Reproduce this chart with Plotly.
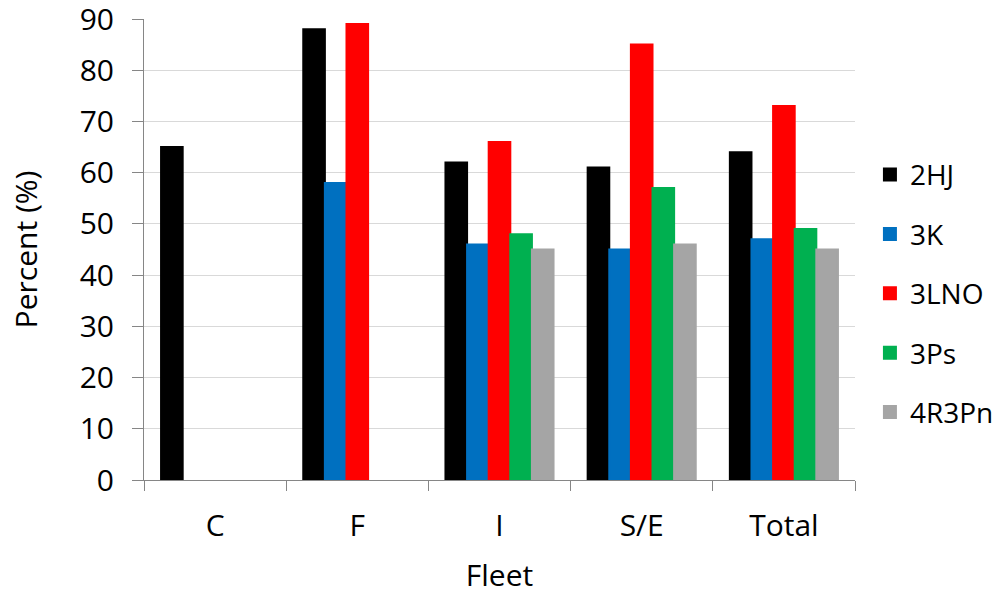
import plotly.graph_objects as go

categories = ["C", "F", "I", "S/E", "Total"]
series_names = ["2HJ", "3K", "3LNO", "3Ps", "4R3Pn"]
v_2HJ = [65, 88, 62, 61, 64]
v_3K = [None, 58, 46, 45, 47]
v_3LNO = [None, 89, 66, 85, 73]
v_3Ps = [None, None, 48, 57, 49]
v_4R3Pn = [None, None, 45, 46, 45]
series_values = [v_2HJ, v_3K, v_3LNO, v_3Ps, v_4R3Pn]
colors = ["#000000", "#0070C0", "#FF0000", "#00B050", "#A5A5A5"]
y_ticks = [0, 10, 20, 30, 40, 50, 60, 70, 80, 90]

FONT = "Open Sans"
FS = 30
AXC = "#868686"

fig = go.Figure()
for name, vals, col in zip(series_names, series_values, colors):
    fig.add_trace(go.Bar(
        x=categories, y=vals, name=name, legendgroup=name,
        marker=dict(color=col, line=dict(color=col, width=2)),
    ))

fig.update_layout(
    width=1002, height=595,
    margin=dict(l=144, r=147, t=19, b=115, autoexpand=False),
    paper_bgcolor="white", plot_bgcolor="white",
    barmode="group", bargap=0.24, bargroupgap=0,
    font=dict(family=FONT, size=FS, color="#000000"),
    showlegend=True,
    legend=dict(
        x=1.021, xanchor="left", y=0.405, yanchor="middle",
        font=dict(family=FONT, size=28, color="#000000"),
        tracegroupgap=20, bgcolor="rgba(0,0,0,0)",
        itemclick=False,
    ),
)
fig.update_xaxes(
    showline=True, linecolor=AXC, linewidth=1,
    ticks="outside", tickson="boundaries", ticklen=10, tickcolor=AXC,
    tickfont=dict(family=FONT, size=FS), ticklabelstandoff=19,
    ticklabeloverflow="allow",
    title=dict(text="Fleet", font=dict(family=FONT, size=FS), standoff=28),
    showgrid=False, automargin=False,
)
fig.update_yaxes(
    range=[0, 90], tickvals=y_ticks,
    showline=True, linecolor=AXC, linewidth=1,
    ticks="outside", ticklen=11, tickcolor=AXC,
    showgrid=True, gridcolor="#D9D9D9", gridwidth=1,
    tickfont=dict(family=FONT, size=FS), ticklabelstandoff=12,
    ticklabeloverflow="allow",
    title=dict(text="Percent (%)", font=dict(family=FONT, size=FS), standoff=33),
    zeroline=False, automargin=False,
)

# remove the browser's default 8px body margin so the figure fills the window
fig.write_html(
    "out.html",
    config={"displayModeBar": False},
    post_script="document.body.style.margin='0px';",
)
